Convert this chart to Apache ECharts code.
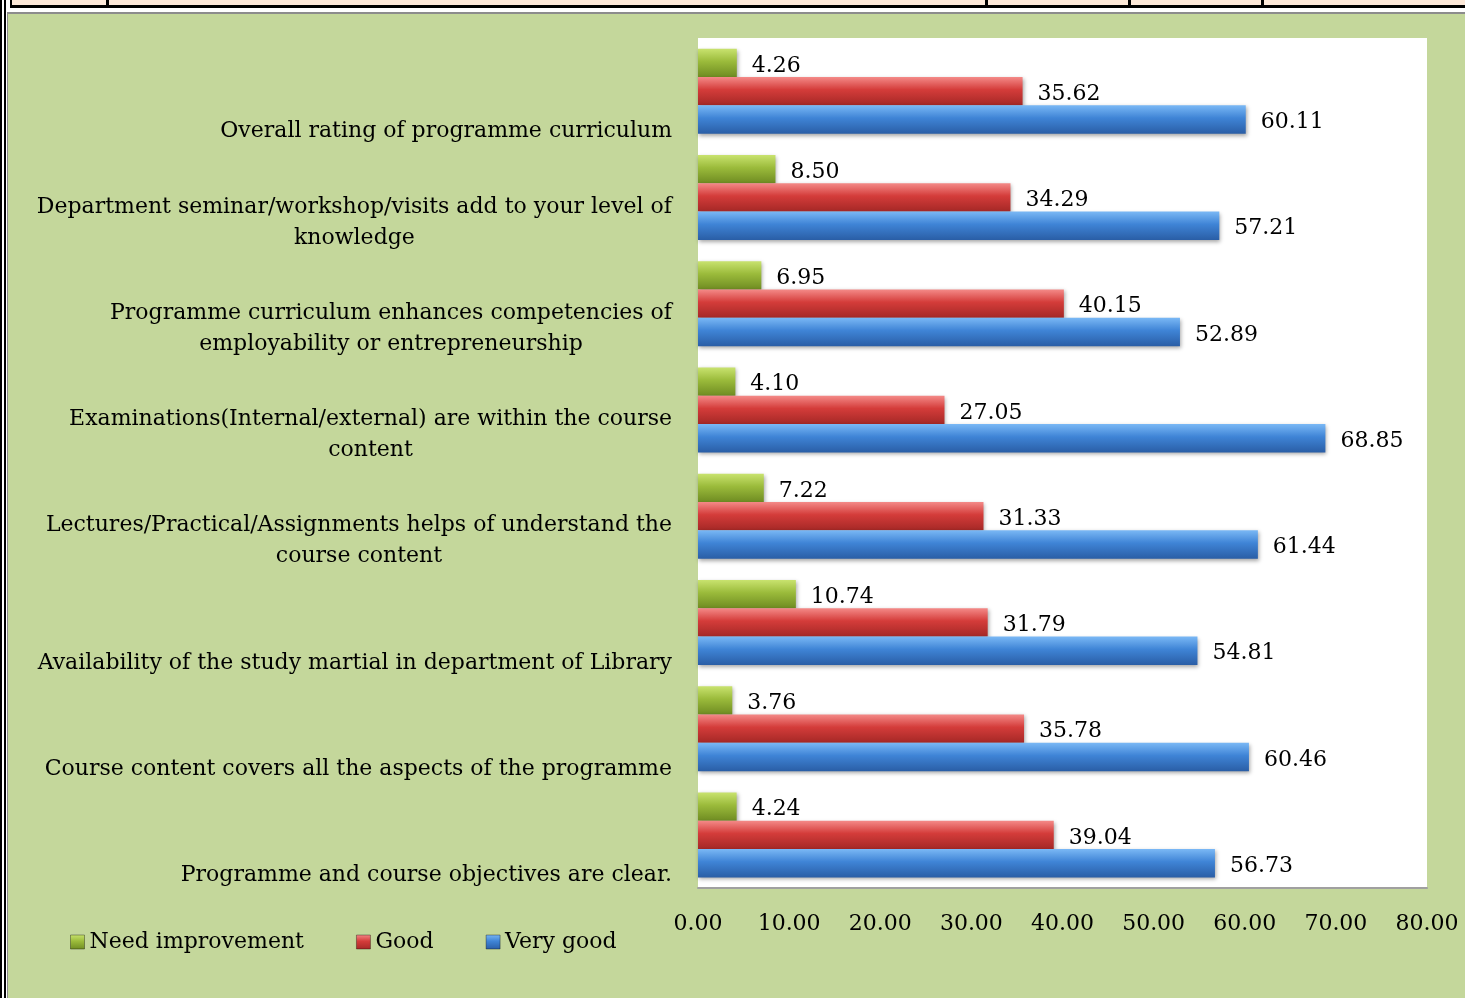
<!DOCTYPE html>
<html>
<head>
<meta charset="UTF-8">
<title>Programme curriculum feedback</title>
<script src="https://cdn.jsdelivr.net/npm/echarts@6/dist/echarts.min.js"></script>
<style>
  html, body { margin: 0; padding: 0; background: #fff; }
  #page { position: relative; width: 1465px; height: 998px; overflow: hidden; }
  .vl { position: absolute; top: 0; bottom: 0; background: #000; }
  #toprow { position: absolute; left: 10px; right: 0; top: 0; height: 5px; background: #fde9d9;
            border-left: 2px solid #000; border-bottom: 3px solid #000; }
  .cell { position: absolute; top: 0; height: 5px; width: 3px; background: #000; }
  #chart { position: absolute; left: 7px; top: 12px; width: 1458px; height: 986px;
           background: #c4d79b; border-left: 1px solid #8c8c8c; border-top: 2px solid #8c8c8c; box-sizing: border-box; }
</style>
</head>
<body>
<div id="page">
  <div class="vl" style="left:0;width:2px"></div>
  <div class="vl" style="left:4px;width:2px"></div>
  <div id="toprow">
    <div class="cell" style="left:94px"></div>
    <div class="cell" style="left:973px"></div>
    <div class="cell" style="left:1116px"></div>
    <div class="cell" style="left:1249px"></div>
  </div>
  <div id="chart"></div>
</div>
<script>
// categories, bottom to top as drawn
var categories = [
  'Programme and course objectives are clear.',
  'Course content covers all the aspects of the programme',
  'Availability of the study martial in department of Library',
  'Lectures/Practical/Assignments helps of understand the\ncourse content',
  'Examinations(Internal/external) are within the course\ncontent',
  'Programme curriculum enhances competencies of\nemployability or entrepreneurship',
  'Department seminar/workshop/visits add to your level of\nknowledge',
  'Overall rating of programme curriculum'
];
var seriesNames = ['Need improvement', 'Good', 'Very good'];
var needImprovement = [4.24, 3.76, 10.74, 7.22, 4.10, 6.95, 8.50, 4.26];
var good = [39.04, 35.78, 31.79, 31.33, 27.05, 40.15, 34.29, 35.62];
var veryGood = [56.73, 60.46, 54.81, 61.44, 68.85, 52.89, 57.21, 60.11];

var FONT = 'DejaVu Serif';

function grad(top, mid, bot) {
  return new echarts.graphic.LinearGradient(0, 0, 0, 1, [
    {offset: 0, color: top},
    {offset: 0.45, color: mid},
    {offset: 1, color: bot}
  ]);
}

function makeSeries(name, data, color) {
  return {
    name: name,
    type: 'bar',
    data: data,
    barGap: '0%',
    barCategoryGap: '20%',
    itemStyle: {
      color: color,
      shadowColor: 'rgba(0,0,0,0.35)',
      shadowBlur: 4,
      shadowOffsetX: 1,
      shadowOffsetY: 2
    },
    label: {
      show: true,
      position: 'right',
      distance: 15,
      offset: [0, 3],
      color: '#000',
      fontFamily: FONT,
      fontSize: 22,
      formatter: function (p) { return p.value.toFixed(2); }
    }
  };
}

var chart = echarts.init(document.getElementById('chart'));
chart.setOption({
  animation: false,
  textStyle: {fontFamily: FONT},
  legend: {
    left: 57,
    top: 912,
    itemWidth: 14,
    itemHeight: 14,
    itemGap: 52,
    icon: 'rect',
    itemStyle: {shadowBlur: 0, shadowOffsetX: 0, shadowOffsetY: 0, borderColor: 'rgba(0,0,0,0.35)', borderWidth: 1},
    textStyle: {fontFamily: FONT, fontSize: 22, color: '#000', padding: [0, 0, 0, 0]},
    data: seriesNames
  },
  grid: {
    left: 690, top: 24, width: 729, height: 850,
    show: true, backgroundColor: '#fff', borderWidth: 0,
    containLabel: false
  },
  xAxis: {
    type: 'value',
    min: 0, max: 80, interval: 10,
    splitLine: {show: false},
    axisTick: {show: false},
    axisLine: {show: true, lineStyle: {color: '#a0a0a0', width: 2}},
    axisLabel: {
      margin: 25,
      color: '#000', fontFamily: FONT, fontSize: 22,
      formatter: function (v) { return v.toFixed(2); }
    }
  },
  yAxis: {
    type: 'category',
    data: categories,
    axisTick: {show: false},
    axisLine: {show: false},
    axisLabel: {
      margin: 26,
      color: '#000', fontFamily: FONT, fontSize: 22,
      lineHeight: 31,
      align: 'right',
      verticalAlign: 'bottom',
      padding: [0, 0, -56, 0],
      formatter: function (v) {
        return v.split('\n').map(function (s) { return '{c|' + s + '}'; }).join('\n');
      },
      rich: {
        c: {align: 'center', fontFamily: FONT, fontSize: 22, lineHeight: 31, color: '#000'}
      }
    }
  },
  series: [
    makeSeries(seriesNames[0], needImprovement, grad('#c9e36f', '#9bbb3b', '#6f8c22')),
    makeSeries(seriesNames[1], good, grad('#f48a88', '#d43c3a', '#a52826')),
    makeSeries(seriesNames[2], veryGood, grad('#7ab8f5', '#3f84d6', '#2a5ea6'))
  ]
});
</script>
</body>
</html>
